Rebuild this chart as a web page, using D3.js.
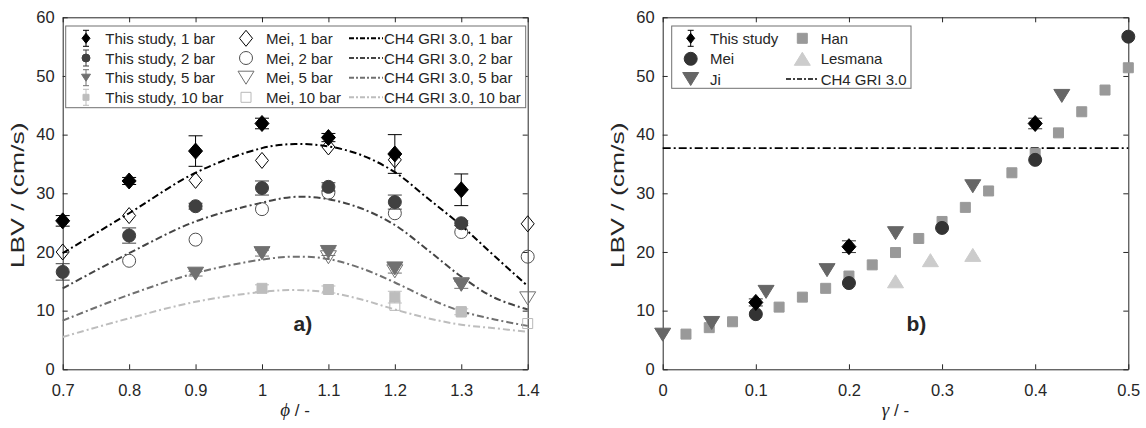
<!DOCTYPE html>
<html><head><meta charset="utf-8">
<script src="https://cdn.jsdelivr.net/npm/d3@7"></script>
<style>
body{margin:0;background:#fff}
svg{display:block}
text{font-family:"Liberation Sans",Arial,sans-serif;fill:#262626}
</style></head>
<body><svg id="c" width="1146" height="428"></svg>
<script>
// ---------- data: panel a) ----------
const phiTicks = [0.7, 0.8, 0.9, 1.0, 1.1, 1.2, 1.3, 1.4];
const lbvTicks = [0, 10, 20, 30, 40, 50, 60];

const phiStudy1 = [0.7, 0.8, 0.9, 1.0, 1.1, 1.2, 1.3];
const lbvStudy1 = [25.3, 32.1, 37.2, 41.9, 39.5, 36.7, 30.6];
const errStudy1 = [0.9, 0.6, 2.6, 0.9, 0.7, 3.3, 2.7];

const phiStudy2 = [0.7, 0.8, 0.9, 1.0, 1.1, 1.2, 1.3];
const lbvStudy2 = [16.6, 22.8, 27.8, 30.9, 31.1, 28.5, 24.9];
const errStudy2 = [1.4, 1.3, 0.5, 1.2, 0.7, 1.2, 0.4];

const phiStudy5 = [0.9, 1.0, 1.1, 1.2, 1.3];
const lbvStudy5 = [16.3, 19.8, 20.0, 17.2, 14.4];
const errStudy5 = [0.4, 0.5, 0.6, 0.8, 0.6];

const phiStudy10 = [1.0, 1.1, 1.2, 1.3];
const lbvStudy10 = [13.8, 13.6, 12.3, 9.8];
const errStudy10 = [0.6, 0.6, 1.0, 0.5];

const phiMei1 = [0.7, 0.8, 0.9, 1.0, 1.1, 1.2, 1.4];
const lbvMei1 = [20.0, 26.2, 32.2, 35.6, 37.9, 35.7, 24.8];
const phiMei2 = [0.8, 0.9, 1.0, 1.1, 1.2, 1.3, 1.4];
const lbvMei2 = [18.5, 22.1, 27.3, 30.1, 26.6, 23.4, 19.2];
const phiMei5 = [1.1, 1.2, 1.3, 1.4];
const lbvMei5 = [19.1, 16.7, 14.5, 12.1];
const phiMei10 = [1.2, 1.3, 1.4];
const lbvMei10 = [10.9, 9.8, 7.8];

const phiGri = [0.7, 0.8, 0.9, 1.0, 1.05, 1.1, 1.15, 1.2, 1.25, 1.3, 1.35, 1.4];
const gri1  = [19.8, 26.6, 33.5, 37.7, 38.4, 38.0, 36.5, 33.6, 29.1, 24.5, 19.3, 14.2];
const gri2  = [13.8, 19.8, 25.2, 28.4, 29.4, 29.0, 27.4, 24.6, 20.3, 15.8, 12.2, 10.2];
const gri5  = [8.3, 12.7, 16.4, 18.7, 19.2, 18.8, 17.2, 14.8, 12.1, 9.9, 8.5, 7.4];
const gri10 = [5.5, 8.7, 11.5, 13.2, 13.5, 13.1, 11.9, 10.2, 8.7, 7.6, 7.0, 6.4];

// ---------- data: panel b) ----------
const gammaTicks = [0, 0.1, 0.2, 0.3, 0.4, 0.5];
const gStudy = [0.1, 0.2, 0.4];
const lbvGStudy = [11.4, 20.9, 41.9];
const errGStudy = [0.6, 1.0, 0.9];
const gMei = [0.1, 0.2, 0.3, 0.4, 0.5];
const lbvGMei = [9.4, 14.7, 24.1, 35.7, 56.7];
const gJi = [0, 0.0526, 0.111, 0.1765, 0.25, 0.333, 0.4286];
const lbvGJi = [5.9, 7.9, 13.2, 16.9, 23.2, 31.2, 46.6];
const gHan = [0.025, 0.05, 0.075, 0.125, 0.15, 0.175, 0.2, 0.225, 0.25, 0.275, 0.3, 0.325, 0.35, 0.375, 0.4, 0.425, 0.45, 0.475, 0.5];
const lbvGHan = [6.0, 7.1, 8.1, 10.6, 12.3, 13.8, 15.9, 17.8, 19.9, 22.3, 25.2, 27.6, 30.4, 33.5, 36.8, 40.3, 43.9, 47.6, 51.4];
const gLes = [0.25, 0.2875, 0.333];
const lbvGLes = [15.0, 18.6, 19.5];
const griGamma = [0, 0.5];
const griGammaLBV = [37.7, 37.7];

// ---------- drawing ----------
const svg = d3.select("#c");
const AX = "#262626";
const yS = d3.scaleLinear().domain([0, 60]).range([369.3, 17.3]);
const xL = d3.scaleLinear().domain([0.7, 1.4]).range([62.7, 527.7]);
const xR = d3.scaleLinear().domain([0, 0.5]).range([662.7, 1128.3]);

function shapePath(s, w, h) {
  const a = w / 2, b = h / 2;
  switch (s) {
    case "diamond": return `M0,${-b}L${a},0L0,${b}L${-a},0Z`;
    case "circle": return `M${a},0A${a},${a} 0 1 1 ${-a},0A${a},${a} 0 1 1 ${a},0Z`;
    case "tridown": return `M${-a},${-b}L${a},${-b}L0,${b}Z`;
    case "triup": return `M${-a},${b}L${a},${b}L0,${-b}Z`;
    case "square": return `M${-a},${-b}L${a},${-b}L${a},${b}L${-a},${b}Z`;
  }
}

function drawAxes(x, ticks, fmt) {
  const g = svg.append("g");
  const [x0, x1] = x.range(), [y0, y1] = yS.range();
  g.append("g").attr("transform", `translate(0,${y0})`)
    .call(d3.axisBottom(x).tickValues(ticks).tickFormat(fmt).tickSizeInner(-5).tickSizeOuter(0).tickPadding(15));
  g.append("g").attr("transform", `translate(0,${y1})`)
    .call(d3.axisTop(x).tickValues(ticks).tickFormat("").tickSizeInner(-5).tickSizeOuter(0));
  g.append("g").attr("transform", `translate(${x0},0)`)
    .call(d3.axisLeft(yS).tickValues(lbvTicks).tickSizeInner(-5).tickSizeOuter(0).tickPadding(8));
  g.append("g").attr("transform", `translate(${x1},0)`)
    .call(d3.axisRight(yS).tickValues(lbvTicks).tickFormat("").tickSizeInner(-5).tickSizeOuter(0));
  g.selectAll("path,line").attr("stroke", AX).attr("stroke-width", 1);
  g.selectAll("text").attr("font-size", 16.5).attr("font-family", '"Liberation Sans",Arial,sans-serif').attr("fill", AX);
  // y label (stretched along its direction as in the reference)
  svg.append("text").attr("transform", `translate(${x0 - 38.5},${(y0 + y1) / 2 + 2}) rotate(-90)`)
    .attr("text-anchor", "middle").attr("font-size", 18)
    .attr("textLength", 146).attr("lengthAdjust", "spacingAndGlyphs").text("LBV / (cm/s)");
}

function lineSeries(g, x, xs, ys, color, width, dash) {
  const line = d3.line().x(d => x(d[0])).y(d => yS(d[1])).curve(d3.curveCatmullRom.alpha(0.5));
  g.append("path").datum(d3.zip(xs, ys)).attr("d", line).attr("fill", "none")
    .attr("stroke", color).attr("stroke-width", width).attr("stroke-dasharray", dash);
}

function markerSeries(g, x, s) {
  const data = s.xs.map((v, i) => ({x: v, y: s.ys[i], e: s.es ? s.es[i] : null}));
  if (s.es) {
    const eg = g.append("g").attr("stroke", s.ecolor || s.stroke).attr("stroke-width", 1);
    data.forEach(d => {
      const cx = x(d.x), yt = yS(d.y + d.e), yb = yS(d.y - d.e);
      eg.append("line").attr("x1", cx).attr("x2", cx).attr("y1", yt).attr("y2", yb);
      eg.append("line").attr("x1", cx - 7).attr("x2", cx + 7).attr("y1", yt).attr("y2", yt);
      eg.append("line").attr("x1", cx - 7).attr("x2", cx + 7).attr("y1", yb).attr("y2", yb);
    });
  }
  g.append("g").selectAll("path").data(data).join("path")
    .attr("transform", d => `translate(${x(d.x)},${yS(d.y)})`)
    .attr("d", shapePath(s.shape, s.w, s.h))
    .attr("fill", s.fill).attr("stroke", s.stroke).attr("stroke-width", s.sw || 1);
}

// ===== panel a =====
drawAxes(xL, phiTicks, d => String(d));
const ga = svg.append("g");
const dashA = "7,3,2,3";
lineSeries(ga, xL, phiGri, gri10, "#bdbdbd", 2, dashA);
lineSeries(ga, xL, phiGri, gri5, "#707070", 2, dashA);
lineSeries(ga, xL, phiGri, gri2, "#444444", 2, dashA);
lineSeries(ga, xL, phiGri, gri1, "#000000", 2, dashA);

const meiA = [
  {xs: phiMei10, ys: lbvMei10, shape: "square", w: 10, h: 10, fill: "none", stroke: "#b8b8b8"},
  {xs: phiMei5, ys: lbvMei5, shape: "tridown", w: 16, h: 13, fill: "none", stroke: "#707070"},
  {xs: phiMei2, ys: lbvMei2, shape: "circle", w: 13, h: 13, fill: "none", stroke: "#505050"},
  {xs: phiMei1, ys: lbvMei1, shape: "diamond", w: 13, h: 16, fill: "none", stroke: "#000"}
];
const studyA = [
  {xs: phiStudy10, ys: lbvStudy10, es: errStudy10, shape: "square", w: 10, h: 10, fill: "#bdbdbd", stroke: "#bdbdbd"},
  {xs: phiStudy5, ys: lbvStudy5, es: errStudy5, shape: "tridown", w: 16, h: 13, fill: "#707070", stroke: "#707070"},
  {xs: phiStudy2, ys: lbvStudy2, es: errStudy2, shape: "circle", w: 13, h: 13, fill: "#404040", stroke: "#404040"},
  {xs: phiStudy1, ys: lbvStudy1, es: errStudy1, shape: "diamond", w: 14, h: 16, fill: "#000", stroke: "#000"}
];
meiA.forEach(s => markerSeries(ga, xL, s));
studyA.forEach(s => markerSeries(ga, xL, s));

// legend a
const lgA = svg.append("g");
lgA.append("rect").attr("x", 65.7).attr("y", 26).attr("width", 460).attr("height", 81.7)
  .attr("fill", "#fff").attr("stroke", "#707070").attr("stroke-width", 1);
const rowsA = [38.3, 58, 77.7, 97.3];
const legStudy = [
  {label: "This study, 1 bar", shape: "diamond", w: 8, h: 10, fill: "#000", stroke: "#000"},
  {label: "This study, 2 bar", shape: "circle", w: 8, h: 8, fill: "#404040", stroke: "#404040"},
  {label: "This study, 5 bar", shape: "tridown", w: 9, h: 7, fill: "#707070", stroke: "#707070"},
  {label: "This study, 10 bar", shape: "square", w: 6, h: 6, fill: "#bdbdbd", stroke: "#bdbdbd"}
];
const legMei = [
  {label: "Mei, 1 bar", shape: "diamond", w: 13, h: 16, fill: "none", stroke: "#000"},
  {label: "Mei, 2 bar", shape: "circle", w: 13, h: 13, fill: "none", stroke: "#505050"},
  {label: "Mei, 5 bar", shape: "tridown", w: 16, h: 13, fill: "none", stroke: "#707070"},
  {label: "Mei, 10 bar", shape: "square", w: 10, h: 10, fill: "none", stroke: "#b8b8b8"}
];
const legGri = [
  {label: "CH4 GRI 3.0, 1 bar", color: "#000"},
  {label: "CH4 GRI 3.0, 2 bar", color: "#444444"},
  {label: "CH4 GRI 3.0, 5 bar", color: "#707070"},
  {label: "CH4 GRI 3.0, 10 bar", color: "#bdbdbd"}
];
legStudy.forEach((d, i) => {
  const cy = rowsA[i], cx = 86;
  lgA.append("line").attr("x1", cx).attr("x2", cx).attr("y1", cy - 8).attr("y2", cy + 8).attr("stroke", d.stroke);
  lgA.append("line").attr("x1", cx - 3).attr("x2", cx + 3).attr("y1", cy - 8).attr("y2", cy - 8).attr("stroke", d.stroke);
  lgA.append("line").attr("x1", cx - 3).attr("x2", cx + 3).attr("y1", cy + 8).attr("y2", cy + 8).attr("stroke", d.stroke);
  lgA.append("path").attr("transform", `translate(${cx},${cy})`).attr("d", shapePath(d.shape, d.w, d.h)).attr("fill", d.fill).attr("stroke", d.stroke);
  lgA.append("text").attr("x", 105.3).attr("y", cy + 5.5).attr("font-size", 15).text(d.label);
});
legMei.forEach((d, i) => {
  const cy = rowsA[i], cx = 246;
  lgA.append("path").attr("transform", `translate(${cx},${cy})`).attr("d", shapePath(d.shape, d.w, d.h)).attr("fill", d.fill).attr("stroke", d.stroke);
  lgA.append("text").attr("x", 266).attr("y", cy + 5.5).attr("font-size", 15).text(d.label);
});
legGri.forEach((d, i) => {
  const cy = rowsA[i];
  lgA.append("line").attr("x1", 349).attr("x2", 383).attr("y1", cy).attr("y2", cy)
    .attr("stroke", d.color).attr("stroke-width", 2).attr("stroke-dasharray", "5,2,2,2");
  lgA.append("text").attr("x", 384).attr("y", cy + 5.5).attr("font-size", 15).text(d.label);
});
svg.append("text").attr("x", 293.5).attr("y", 331).attr("font-family", '"Liberation Serif","Times New Roman",serif')
  .attr("font-weight", "bold").attr("font-size", 21).attr("fill", "#000").text("a)");
const xlabA = svg.append("text").attr("x", 295).attr("y", 416).attr("text-anchor", "middle").attr("font-size", 17);
xlabA.append("tspan").attr("font-family", '"Liberation Serif","Times New Roman",serif').attr("font-style", "italic").attr("font-size", 19).text("ϕ");
xlabA.append("tspan").text(" / -");

// ===== panel b =====
drawAxes(xR, gammaTicks, d => String(d));
const gb = svg.append("g");
lineSeries(gb, xR, griGamma, griGammaLBV, "#000", 1.6, "8,3,2,3");
const seriesB = [
  {xs: gHan, ys: lbvGHan, shape: "square", w: 10, h: 10, fill: "#999999", stroke: "#999999"},
  {xs: gLes, ys: lbvGLes, shape: "triup", w: 16, h: 13, fill: "#cccccc", stroke: "#cccccc"},
  {xs: gJi, ys: lbvGJi, shape: "tridown", w: 16, h: 13, fill: "#666666", stroke: "#666666"},
  {xs: gMei, ys: lbvGMei, shape: "circle", w: 13, h: 13, fill: "#333333", stroke: "#333333"},
  {xs: gStudy, ys: lbvGStudy, es: errGStudy, shape: "diamond", w: 14, h: 16, fill: "#000", stroke: "#000", ecolor: "#333"}
];
seriesB.forEach(s => markerSeries(gb, xR, s));

const lgB = svg.append("g");
lgB.append("rect").attr("x", 671.7).attr("y", 26).attr("width", 239.3).attr("height", 62.3)
  .attr("fill", "#fff").attr("stroke", "#707070").attr("stroke-width", 1);
const rowsB = [38.3, 58.8, 79];
const legB1 = [
  {label: "This study", shape: "diamond", w: 8, h: 10, fill: "#000", stroke: "#000", err: true},
  {label: "Mei", shape: "circle", w: 13, h: 13, fill: "#333333", stroke: "#333333"},
  {label: "Ji", shape: "tridown", w: 16, h: 13, fill: "#666666", stroke: "#666666"}
];
legB1.forEach((d, i) => {
  const cy = rowsB[i], cx = 690.7;
  if (d.err) {
    lgB.append("line").attr("x1", cx).attr("x2", cx).attr("y1", cy - 8).attr("y2", cy + 8).attr("stroke", "#000");
    lgB.append("line").attr("x1", cx - 3).attr("x2", cx + 3).attr("y1", cy - 8).attr("y2", cy - 8).attr("stroke", "#000");
    lgB.append("line").attr("x1", cx - 3).attr("x2", cx + 3).attr("y1", cy + 8).attr("y2", cy + 8).attr("stroke", "#000");
  }
  lgB.append("path").attr("transform", `translate(${cx},${cy})`).attr("d", shapePath(d.shape, d.w, d.h)).attr("fill", d.fill).attr("stroke", d.stroke);
  lgB.append("text").attr("x", 710).attr("y", cy + 5.5).attr("font-size", 15).text(d.label);
});
const legB2 = [
  {label: "Han", shape: "square", w: 10, h: 10, fill: "#999999", stroke: "#999999"},
  {label: "Lesmana", shape: "triup", w: 16, h: 13, fill: "#cccccc", stroke: "#cccccc"}
];
legB2.forEach((d, i) => {
  const cy = rowsB[i], cx = 802.3;
  lgB.append("path").attr("transform", `translate(${cx},${cy})`).attr("d", shapePath(d.shape, d.w, d.h)).attr("fill", d.fill).attr("stroke", d.stroke);
  lgB.append("text").attr("x", 820.7).attr("y", cy + 5.5).attr("font-size", 15).text(d.label);
});
lgB.append("line").attr("x1", 786).attr("x2", 818).attr("y1", rowsB[2]).attr("y2", rowsB[2])
  .attr("stroke", "#000").attr("stroke-width", 1.6).attr("stroke-dasharray", "5,2,2,2");
lgB.append("text").attr("x", 820.7).attr("y", rowsB[2] + 5.5).attr("font-size", 15).text("CH4 GRI 3.0");

svg.append("text").attr("x", 906.5).attr("y", 331).attr("font-family", '"Liberation Serif","Times New Roman",serif')
  .attr("font-weight", "bold").attr("font-size", 21).attr("fill", "#000").text("b)");
const xlabB = svg.append("text").attr("x", 895.5).attr("y", 416).attr("text-anchor", "middle").attr("font-size", 17);
xlabB.append("tspan").attr("font-family", '"Liberation Serif","Times New Roman",serif').attr("font-style", "italic").attr("font-size", 19).text("γ");
xlabB.append("tspan").text(" / -");
</script></body></html>
